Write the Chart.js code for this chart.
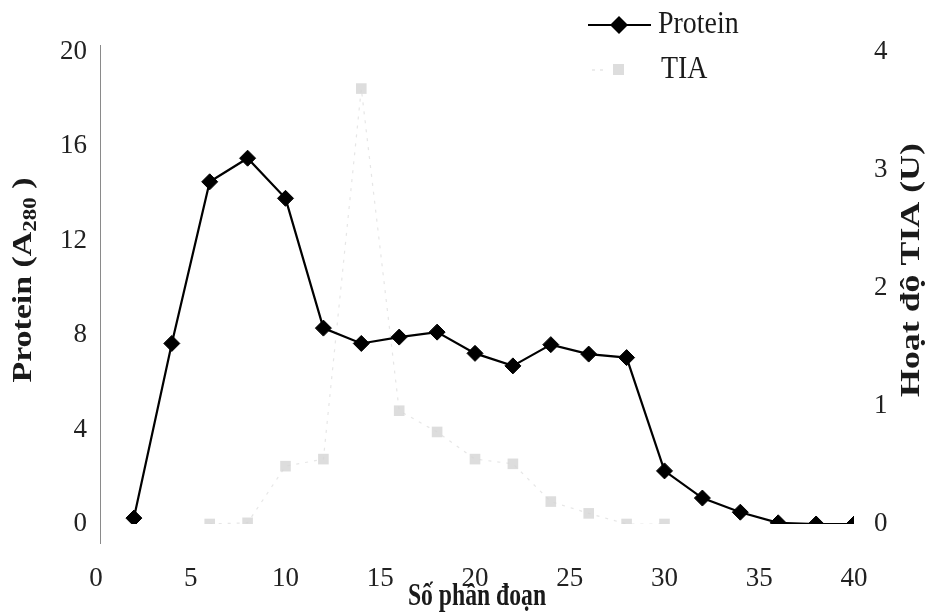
<!DOCTYPE html>
<html>
<head>
<meta charset="utf-8">
<script src="https://cdn.jsdelivr.net/npm/chart.js@4.4.0/dist/chart.umd.min.js"></script>
<style>
  html, body { margin: 0; padding: 0; background: #fff; }
  #wrap { width: 931px; height: 615px; }
</style>
</head>
<body>
<div id="wrap"><canvas id="c" width="931" height="615"></canvas></div>
<script>
// ---- data ----
const proteinFractions = [2, 4, 6, 8, 10, 12, 14, 16, 18, 20, 22, 24, 26, 28, 30, 32, 34, 36, 38, 40];
const proteinValues    = [0.25, 7.65, 14.5, 15.5, 13.8, 8.3, 7.65, 7.92, 8.13, 7.23, 6.7, 7.6, 7.2, 7.05, 2.25, 1.1, 0.5, 0.05, 0.0, 0.0];
const tiaFractions     = [6, 8, 10, 12, 14, 16, 18, 20, 22, 24, 26, 28, 30];
const tiaValues        = [0.0, 0.01, 0.49, 0.55, 3.69, 0.96, 0.78, 0.55, 0.51, 0.19, 0.09, 0.0, 0.0];
const xTicks    = [0, 5, 10, 15, 20, 25, 30, 35, 40];
const yLeftTicks  = [0, 4, 8, 12, 16, 20];
const yRightTicks = [0, 1, 2, 3, 4];
const seriesNames = ['Protein', 'TIA'];
const xTitle = 'Số phân đoạn';
const yLeftTitle = ['Protein (A', '280', ' )'];
const yRightTitle = 'Hoạt độ TIA (U)';

const SERIF = '"Liberation Serif", "Times New Roman", serif';
const TIA_LINE = 'rgba(200,200,200,0.45)';
const TIA_POINT = 'rgba(212,212,212,0.8)';
const TEXT = '#1a1a1a';

const toXY = (xs, ys) => xs.map((x, i) => ({ x, y: ys[i] }));

const decor = {
  id: 'decor',
  beforeDatasetsDraw(chart) {
    // left axis line (slightly offset and extended, like the reference)
    const { ctx, chartArea: a } = chart;
    ctx.save();
    ctx.strokeStyle = '#8a8a8a';
    ctx.lineWidth = 1;
    ctx.beginPath();
    ctx.moveTo(a.left + 4.5, a.top - 7);
    ctx.lineTo(a.left + 4.5, a.bottom + 20);
    ctx.stroke();
    ctx.restore();
  },
  afterDraw(chart) {
    const { ctx, chartArea: a } = chart;
    ctx.save();
    ctx.fillStyle = TEXT;
    ctx.textBaseline = 'middle';

    // x title (horizontally condensed like the reference)
    ctx.save();
    ctx.translate((a.left + a.right) / 2 + 2, 597);
    ctx.scale(0.74, 1);
    ctx.font = 'bold 32px ' + SERIF;
    ctx.textAlign = 'center';
    ctx.fillText(xTitle, 0, 0);
    ctx.restore();

    // left y title with subscript
    ctx.save();
    ctx.translate(24, 280);
    ctx.rotate(-Math.PI / 2);
    ctx.scale(1.21, 1);
    const big = 'bold 28px ' + SERIF, small = 'bold 19px ' + SERIF;
    ctx.font = big; const w0 = ctx.measureText(yLeftTitle[0]).width;
    ctx.font = small; const w1 = ctx.measureText(yLeftTitle[1]).width;
    ctx.font = big; const w2 = ctx.measureText(yLeftTitle[2]).width;
    let sx = -(w0 + w1 + w2) / 2;
    ctx.textAlign = 'left';
    ctx.font = big; ctx.fillText(yLeftTitle[0], sx, 0); sx += w0;
    ctx.font = small; ctx.fillText(yLeftTitle[1], sx, 7); sx += w1;
    ctx.font = big; ctx.fillText(yLeftTitle[2], sx, 0);
    ctx.restore();

    // right y title
    ctx.save();
    ctx.translate(912, 270);
    ctx.rotate(-Math.PI / 2);
    ctx.scale(1.28, 1);
    ctx.font = 'bold 28px ' + SERIF;
    ctx.textAlign = 'center';
    ctx.fillText(yRightTitle, 0, 0);
    ctx.restore();

    // legend
    // Protein
    ctx.strokeStyle = '#000'; ctx.lineWidth = 2;
    ctx.beginPath(); ctx.moveTo(588, 25); ctx.lineTo(651, 25); ctx.stroke();
    ctx.fillStyle = '#000';
    ctx.beginPath(); ctx.moveTo(619, 16); ctx.lineTo(628, 25); ctx.lineTo(619, 34); ctx.lineTo(610, 25); ctx.closePath(); ctx.fill();
    // TIA
    ctx.strokeStyle = TIA_LINE; ctx.lineWidth = 1.5; ctx.setLineDash([3, 5]);
    ctx.beginPath(); ctx.moveTo(592, 70); ctx.lineTo(606, 70); ctx.stroke();
    ctx.setLineDash([]);
    ctx.fillStyle = TIA_POINT;
    ctx.fillRect(613, 64, 11, 11);
    ctx.fillStyle = TEXT;
    ctx.textAlign = 'left';
    ctx.font = '31px ' + SERIF;
    ctx.save(); ctx.translate(658, 25); ctx.scale(0.9, 1); ctx.fillText(seriesNames[0], 0, 0); ctx.restore();
    ctx.save(); ctx.translate(661, 70); ctx.scale(0.9, 1); ctx.fillText(seriesNames[1], 0, 0); ctx.restore();
    ctx.restore();
  }
};

new Chart(document.getElementById('c'), {
  type: 'line',
  data: {
    datasets: [
      {
        label: seriesNames[1],
        data: toXY(tiaFractions, tiaValues),
        yAxisID: 'y1',
        borderColor: TIA_LINE,
        borderWidth: 1.2,
        borderDash: [3, 6],
        pointStyle: 'rect',
        pointRadius: 7.5,
        pointBackgroundColor: TIA_POINT,
        pointBorderColor: 'rgba(0,0,0,0)',
        pointBorderWidth: 0,
        tension: 0,
        order: 2
      },
      {
        label: seriesNames[0],
        data: toXY(proteinFractions, proteinValues),
        yAxisID: 'y',
        borderColor: '#000',
        borderWidth: 2.2,
        pointStyle: 'rectRot',
        pointRadius: 8,
        pointBackgroundColor: '#000',
        pointBorderColor: '#000',
        pointBorderWidth: 1,
        tension: 0,
        order: 1
      }
    ]
  },
  options: {
    responsive: false,
    animation: false,
    events: [],
    layout: { padding: { top: 52, left: 0, right: 0, bottom: 0 } },
    plugins: { legend: { display: false }, tooltip: { enabled: false }, title: { display: false } },
    scales: {
      x: {
        type: 'linear',
        min: xTicks[0],
        max: xTicks[xTicks.length - 1],
        afterBuildTicks: s => { s.ticks = xTicks.map(v => ({ value: v })); },
        afterFit: s => { s.height = 91; },
        grid: { display: false, drawTicks: false },
        border: { display: false },
        ticks: { color: '#222', font: { family: SERIF, size: 27 }, padding: 39, maxRotation: 0, autoSkip: false }
      },
      y: {
        position: 'left',
        min: 0, max: 20,
        afterBuildTicks: s => { s.ticks = yLeftTicks.map(v => ({ value: v })); },
        afterFit: s => { s.width = 96; },
        grid: { display: false, drawTicks: false },
        border: { display: false },
        ticks: { color: '#222', font: { family: SERIF, size: 27 }, padding: 9 }
      },
      y1: {
        position: 'right',
        min: 0, max: 4,
        afterBuildTicks: s => { s.ticks = yRightTicks.map(v => ({ value: v })); },
        afterFit: s => { s.width = 77; },
        grid: { display: false, drawTicks: false },
        border: { display: false },
        ticks: { color: '#222', font: { family: SERIF, size: 27 }, padding: 20 }
      }
    }
  },
  plugins: [decor]
});
</script>
</body>
</html>
